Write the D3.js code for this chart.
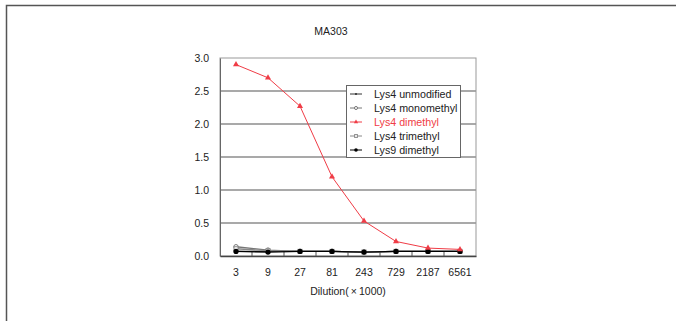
<!DOCTYPE html>
<html><head><meta charset="utf-8">
<script src="https://cdn.jsdelivr.net/npm/d3@7"></script>
<style>body{margin:0;background:#fff}svg{display:block;font-family:"Liberation Sans",Arial,sans-serif}</style>
</head><body><svg id="c" width="676" height="321"></svg>
<script>
const categories = ["3","9","27","81","243","729","2187","6561"];
const seriesNames = ["Lys4 unmodified","Lys4 monomethyl","Lys4 dimethyl","Lys4 trimethyl","Lys9 dimethyl"];
const unmodified = [0.07,0.07,0.07,0.07,0.06,0.07,0.07,0.07];
const monomethyl = [0.14,0.09,0.07,0.07,0.06,0.07,0.07,0.07];
const dimethyl = [2.90,2.70,2.27,1.20,0.53,0.22,0.12,0.10];
const trimethyl = [0.11,0.08,0.07,0.07,0.06,0.07,0.07,0.07];
const lys9dimethyl = [0.07,0.06,0.07,0.07,0.06,0.07,0.07,0.07];
const yTicks = [0,0.5,1,1.5,2,2.5,3];
const title = "MA303";
const xTitle = "Dilution(\u2009\u00d7\u20091000)";

const series = [
  {name:seriesNames[0], values:unmodified, color:"#333", sym:"dot"},
  {name:seriesNames[1], values:monomethyl, color:"#777", sym:"circle"},
  {name:seriesNames[3], values:trimethyl, color:"#888", sym:"square"},
  {name:seriesNames[4], values:lys9dimethyl, color:"#000", sym:"bigdot"},
  {name:seriesNames[2], values:dimethyl, color:"#f03c46", sym:"tri"}
];
const legendOrder = [0,1,4,2,3];

const svg = d3.select("#c");
svg.append("rect").attr("x",6.5).attr("y",5.5).attr("width",700).attr("height",400)
  .attr("fill","none").attr("stroke","#555").attr("stroke-width",1.5);

const L=220,R=476,T=58,B=256;
const x = d3.scaleBand().domain(categories).range([L,R]).padding(0);
const y = d3.scaleLinear().domain([0,3]).range([B,T]);

svg.append("g").selectAll("line").data(yTicks.filter(d=>d>0&&d<3)).join("line")
  .attr("x1",L).attr("x2",R).attr("y1",d=>y(d)).attr("y2",d=>y(d))
  .attr("stroke","#8c8c8c").attr("stroke-width",1.5);
svg.append("rect").attr("x",L).attr("y",T).attr("width",R-L).attr("height",B-T)
  .attr("fill","none").attr("stroke","#999").attr("stroke-width",1);

const ya = svg.append("g").attr("transform",`translate(${L},0)`)
  .call(d3.axisLeft(y).tickValues(yTicks).tickFormat(d3.format(".1f")).tickSize(0).tickPadding(11));
ya.select(".domain").attr("stroke","#666");
ya.selectAll("text").attr("font-size",10.5).attr("fill","#222").attr("font-family","Liberation Sans, Arial, sans-serif");

const xa = svg.append("g").attr("transform",`translate(0,${B})`)
  .call(d3.axisBottom(x).tickSize(0).tickPadding(13));
xa.select(".domain").attr("stroke","#444").attr("stroke-width",1.5);
xa.selectAll("text").attr("font-size",10.5).attr("fill","#222").attr("font-family","Liberation Sans, Arial, sans-serif");
svg.append("g").selectAll("line").data(categories.slice(1)).join("line")
  .attr("x1",d=>x(d)).attr("x2",d=>x(d)).attr("y1",B).attr("y2",B-4)
  .attr("stroke","#555");

svg.append("text").attr("x",331).attr("y",35).attr("text-anchor","middle")
  .attr("font-size",10.5).attr("fill","#222").text(title);
svg.append("text").attr("x",348).attr("y",295).attr("text-anchor","middle")
  .attr("font-size",10.5).attr("fill","#222").text(xTitle);

const line = d3.line().x((d,i)=>x(categories[i])+x.bandwidth()/2).y(d=>y(d));
function drawSym(g, sym, color, cx, cy, scale){
  if(sym==="dot") g.append("circle").attr("cx",cx).attr("cy",cy).attr("r",1.6*scale).attr("fill",color);
  else if(sym==="circle") g.append("circle").attr("cx",cx).attr("cy",cy).attr("r",2.2*scale).attr("fill","#fff").attr("stroke",color);
  else if(sym==="square") g.append("rect").attr("x",cx-2*scale).attr("y",cy-2*scale).attr("width",4*scale).attr("height",4*scale).attr("fill","#fff").attr("stroke",color);
  else if(sym==="bigdot") g.append("circle").attr("cx",cx).attr("cy",cy).attr("r",2.6*scale).attr("fill",color);
  else if(sym==="tri") g.append("path").attr("d",d3.symbol(d3.symbolTriangle, 16*scale*scale)()).attr("transform",`translate(${cx},${cy})`).attr("fill",color);
}
series.forEach(s=>{
  const g = svg.append("g");
  g.append("path").datum(s.values).attr("d",line).attr("fill","none")
    .attr("stroke",s.color).attr("stroke-width",s.sym==="tri"?1:1.3);
  s.values.forEach((v,i)=>drawSym(g,s.sym,s.color,x(categories[i])+x.bandwidth()/2,y(v),1));
});

const lg = svg.append("g");
lg.append("rect").attr("x",346.5).attr("y",85.5).attr("width",114).attr("height",72)
  .attr("fill","#fff").attr("stroke","#666");
legendOrder.forEach((si,k)=>{
  const s = series[si];
  const cy = 94 + k*14;
  lg.append("line").attr("x1",350).attr("x2",362).attr("y1",cy).attr("y2",cy).attr("stroke",s.color);
  drawSym(lg,s.sym,s.color,356,cy,0.7);
  lg.append("text").attr("x",374).attr("y",cy+4).attr("font-size",10.7)
    .attr("fill",s.sym==="tri"?"#f03c46":"#222").text(s.name);
});
</script></body></html>
